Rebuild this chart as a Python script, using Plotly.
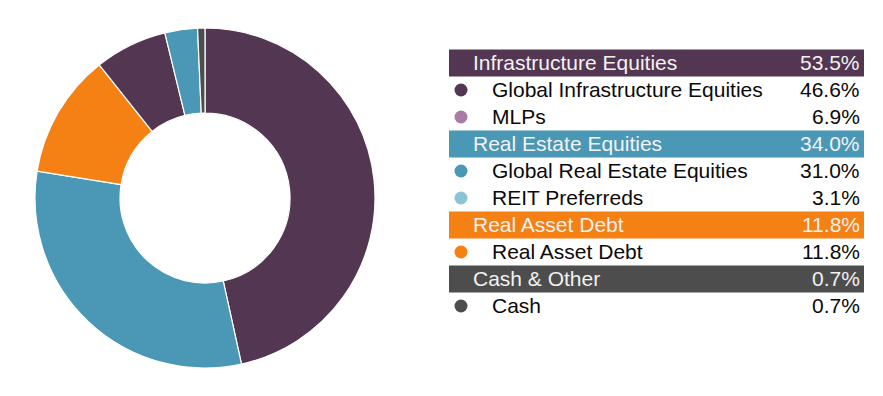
import plotly.graph_objects as go

# ---- data ----
groups = ["Infrastructure Equities", "Real Estate Equities", "Real Asset Debt", "Cash & Other"]
group_values = [53.5, 34.0, 11.8, 0.7]
items = ["Global Infrastructure Equities", "MLPs", "Global Real Estate Equities",
         "REIT Preferreds", "Real Asset Debt", "Cash"]
item_values = [46.6, 6.9, 31.0, 3.1, 11.8, 0.7]
item_group = [0, 0, 1, 1, 2, 3]
pie_order = [0, 2, 4, 1, 3, 5]

# ---- styles ----
group_colors = ["#533651", "#4A98B5", "#F58014", "#4D4D4D"]
item_dot_colors = ["#533651", "#A87CA8", "#4A98B5", "#8CC3D5", "#F58014", "#4D4D4D"]
FONT = "Liberation Sans, Arial, sans-serif"
FS = 21
W, H = 883, 396

fig = go.Figure()

fig.add_trace(go.Pie(
    labels=[items[i] for i in pie_order],
    values=[item_values[i] for i in pie_order],
    marker=dict(colors=[group_colors[item_group[i]] for i in pie_order],
                line=dict(color="white", width=1.2)),
    hole=0.5, sort=False, direction="clockwise", rotation=0,
    textinfo="none", hoverinfo="label+value", showlegend=False,
    domain=dict(x=[35 / W, 375 / W], y=[(198 - 170) / H, (198 + 170) / H]),
))

# ---- legend table ----
x0, x1 = 449, 864
row0, pitch = 63, 27
rows = []  # (kind, index)
for g in range(len(groups)):
    rows.append(("g", g))
    for i, ig in enumerate(item_group):
        if ig == g:
            rows.append(("i", i))

shapes, annotations = [], []
dot_x, dot_y, dot_c = [], [], []
for r, (kind, idx) in enumerate(rows):
    yc = row0 + r * pitch
    if kind == "g":
        shapes.append(dict(type="rect", xref="x", yref="y", x0=x0, x1=x1,
                           y0=yc - 13.5, y1=yc + 13.5, fillcolor=group_colors[idx],
                           line=dict(width=0), layer="below"))
        annotations.append(dict(x=471, y=yc - 0.5, xref="x", yref="y", text=groups[idx],
                                xanchor="left", yanchor="middle", showarrow=False,
                                font=dict(family=FONT, size=FS, color="#F2F2F2")))
        annotations.append(dict(x=862, y=yc - 0.5, xref="x", yref="y",
                                text=f"{group_values[idx]:.1f}%",
                                xanchor="right", yanchor="middle", showarrow=False,
                                font=dict(family=FONT, size=FS, color="#F2F2F2")))
    else:
        dot_x.append(461)
        dot_y.append(yc)
        dot_c.append(item_dot_colors[idx])
        annotations.append(dict(x=490, y=yc - 0.5, xref="x", yref="y", text=items[idx],
                                xanchor="left", yanchor="middle", showarrow=False,
                                font=dict(family=FONT, size=FS, color="#0A0A0A")))
        annotations.append(dict(x=862, y=yc - 0.5, xref="x", yref="y",
                                text=f"{item_values[idx]:.1f}%",
                                xanchor="right", yanchor="middle", showarrow=False,
                                font=dict(family=FONT, size=FS, color="#0A0A0A")))

fig.add_trace(go.Scatter(x=dot_x, y=dot_y, mode="markers",
                         marker=dict(size=13, color=dot_c, line=dict(width=0)),
                         hoverinfo="skip", showlegend=False))

fig.update_layout(
    width=W, height=H, margin=dict(l=0, r=0, t=0, b=0),
    paper_bgcolor="white", plot_bgcolor="rgba(0,0,0,0)",
    xaxis=dict(range=[0, W], visible=False, fixedrange=True, domain=[0, 1]),
    yaxis=dict(range=[H, 0], visible=False, fixedrange=True, domain=[0, 1]),
    shapes=shapes, annotations=annotations, showlegend=False,
)

fig.write_html("out.html", config={"displayModeBar": False},
               post_script="document.body.style.margin='0';document.body.style.overflow='hidden';")
